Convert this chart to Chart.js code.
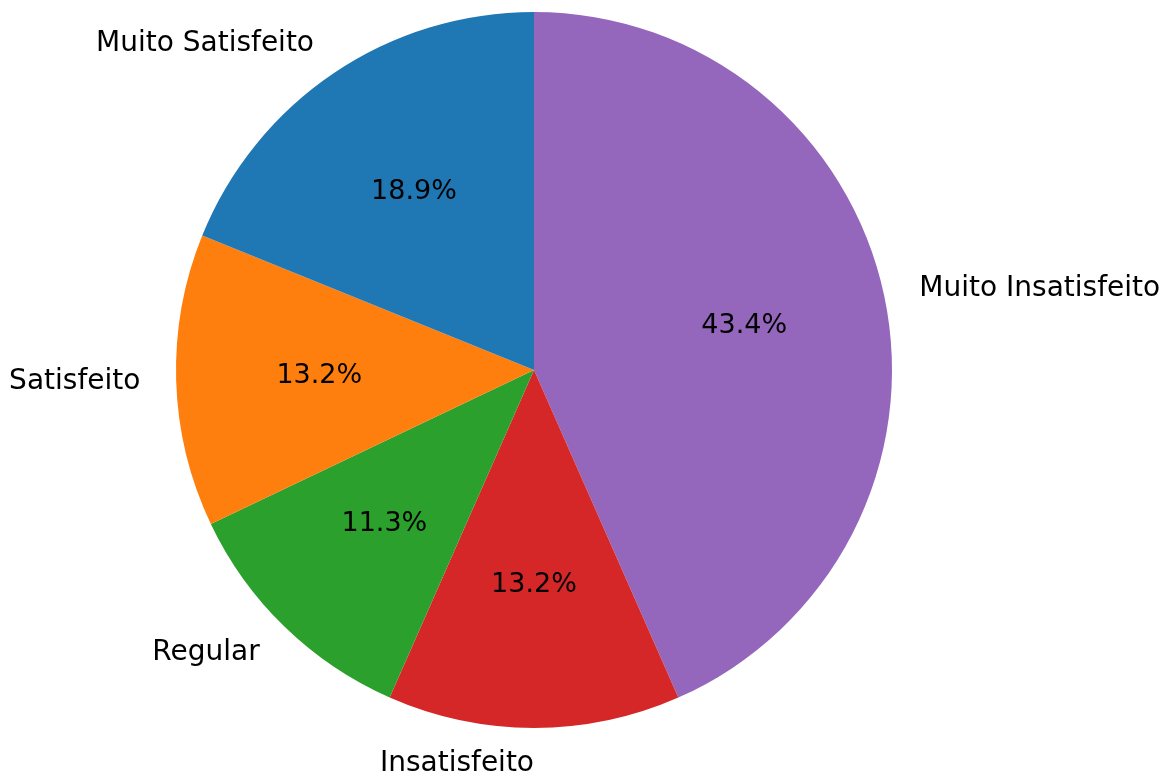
<!DOCTYPE html>
<html>
<head>
<meta charset="utf-8">
<script src="https://cdn.jsdelivr.net/npm/chart.js@4/dist/chart.umd.min.js"></script>
<style>
  html, body { margin: 0; padding: 0; background: #fff; }
  canvas { display: block; }
</style>
</head>
<body>
<canvas id="pie" width="1168" height="776"></canvas>
<script>
// respostas por nivel de satisfacao
const categorias = ['Muito Satisfeito', 'Satisfeito', 'Regular', 'Insatisfeito', 'Muito Insatisfeito'];
const respostas = [10, 7, 6, 7, 23];
const cores = ['#1f77b4', '#ff7f0e', '#2ca02c', '#d62728', '#9467bd'];

// Chart.js desenha no sentido horario, entao inverte a ordem
const labels = categorias.slice().reverse();
const valores = respostas.slice().reverse();
const coresInv = cores.slice().reverse();
const total = respostas.reduce((a, b) => a + b, 0);

const fonteNome = '28px "DejaVu Sans"';
const fontePct = '27px "DejaVu Sans"';

const rotulos = {
    id: 'rotulos',
    afterDatasetsDraw(chart) {
        const ctx = chart.ctx;
        const arcs = chart.getDatasetMeta(0).data;
        ctx.save();
        ctx.fillStyle = '#000';
        ctx.textBaseline = 'middle';
        arcs.forEach((arc, i) => {
            const p = arc.getProps(['x', 'y', 'startAngle', 'endAngle', 'outerRadius'], true);
            const meio = (p.startAngle + p.endAngle) / 2;
            const c = Math.cos(meio), s = Math.sin(meio);
            // nome da categoria fora da fatia
            const lx = p.x + p.outerRadius * 1.1 * c;
            const ly = p.y + p.outerRadius * 1.1 * s;
            ctx.font = fonteNome;
            ctx.textAlign = c > 1e-6 ? 'left' : 'right';
            ctx.fillText(labels[i], lx, ly);
            // porcentagem dentro
            const px = p.x + p.outerRadius * 0.6 * c;
            const py = p.y + p.outerRadius * 0.6 * s;
            ctx.font = fontePct;
            ctx.textAlign = 'center';
            ctx.fillText((valores[i] / total * 100).toFixed(1) + '%', px, py);
        });
        ctx.restore();
    }
};

new Chart(document.getElementById('pie').getContext('2d'), {
    type: 'pie',
    data: {
        labels: labels,
        datasets: [{
            data: valores,
            backgroundColor: coresInv,
            borderWidth: 0
        }]
    },
    options: {
        responsive: false,
        animation: false,
        rotation: 0,
        layout: { padding: { left: 176, right: 276, top: 12, bottom: 48 } },
        plugins: {
            legend: { display: false },
            tooltip: { enabled: false }
        }
    },
    plugins: [rotulos]
});
</script>
</body>
</html>
